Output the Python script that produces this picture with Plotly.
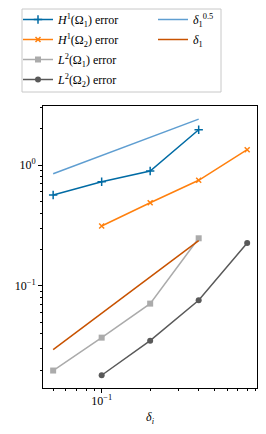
import plotly.graph_objects as go

delta_a = [0.05, 0.1, 0.2, 0.4]
delta_b = [0.1, 0.2, 0.4, 0.8]
h1_omega1 = [0.564, 0.727, 0.892, 1.96]
h1_omega2 = [0.312, 0.487, 0.747, 1.34]
l2_omega1 = [0.0198, 0.0371, 0.0710, 0.247]
l2_omega2 = [0.0181, 0.0350, 0.0757, 0.226]
rate_half = [0.847, 1.198, 1.694, 2.40]
rate_one = [0.0295, 0.059, 0.118, 0.236]

W, H = 266, 434
L, R, T, B = 43, 9, 106, 46
FONT = "Liberation Serif"

fig = go.Figure()
fig.add_trace(go.Scatter(x=delta_a, y=h1_omega1, mode="lines+markers",
    name="<i>H</i><sup>1</sup>(Ω<sub>1</sub>) error", legend="legend", legendgroup="a",
    line=dict(color="#006BA4", width=1.5),
    marker=dict(symbol="cross-thin", size=6, line=dict(color="#006BA4", width=1.5))))
fig.add_trace(go.Scatter(x=delta_b, y=h1_omega2, mode="lines+markers",
    name="<i>H</i><sup>1</sup>(Ω<sub>2</sub>) error", legend="legend", legendgroup="b",
    line=dict(color="#FF800E", width=1.5),
    marker=dict(symbol="x-thin", size=5, line=dict(color="#FF800E", width=1.5))))
fig.add_trace(go.Scatter(x=delta_a, y=l2_omega1, mode="lines+markers",
    name="<i>L</i><sup>2</sup>(Ω<sub>1</sub>) error", legend="legend", legendgroup="c",
    line=dict(color="#ABABAB", width=1.5),
    marker=dict(symbol="square", size=6, color="#ABABAB")))
fig.add_trace(go.Scatter(x=delta_b, y=l2_omega2, mode="lines+markers",
    name="<i>L</i><sup>2</sup>(Ω<sub>2</sub>) error", legend="legend", legendgroup="d",
    line=dict(color="#595959", width=1.5),
    marker=dict(symbol="circle", size=6, color="#595959")))
fig.add_trace(go.Scatter(x=delta_a, y=rate_half, mode="lines",
    name="<i>δ</i><sub>1</sub><sup>0.5</sup>", legend="legend2", legendgroup="e",
    line=dict(color="#5F9ED1", width=1.5)))
fig.add_trace(go.Scatter(x=delta_a, y=rate_one, mode="lines",
    name="<i>δ</i><sub>1</sub>", legend="legend2", legendgroup="f",
    line=dict(color="#C85200", width=1.5)))

pw = W - L - R
ph = H - T - B
def px_x(p):
    return (p - L) / pw
def px_y(p):
    return (H - B - p) / ph

# legend frame
fig.add_shape(type="rect", xref="paper", yref="paper",
    x0=px_x(22), x1=px_x(221), y0=px_y(92), y1=px_y(9),
    line=dict(color="#c8c8c8", width=1), fillcolor="rgba(0,0,0,0)", layer="above")

xminor = [0.05, 0.06, 0.07, 0.08, 0.09, 0.2, 0.3, 0.4, 0.5, 0.6, 0.7, 0.8, 0.9]
yminor = [0.02, 0.03, 0.04, 0.05, 0.06, 0.07, 0.08, 0.09, 0.2, 0.3, 0.4, 0.5, 0.6, 0.7, 0.8, 0.9, 2, 3]

leg_common = dict(xanchor="left", yanchor="top", bgcolor="rgba(0,0,0,0)",
                  font=dict(family=FONT, size=12), traceorder="grouped",
                  tracegroupgap=1, borderwidth=0)

fig.update_layout(
    width=W, height=H,
    margin=dict(l=L, r=R, t=T, b=B, autoexpand=False),
    paper_bgcolor="white", plot_bgcolor="white",
    font=dict(family=FONT, size=12, color="black"),
    legend=dict(x=px_x(18), y=px_y(5), **leg_common),
    legend2=dict(x=px_x(153), y=px_y(5), **leg_common),
    xaxis=dict(type="log", range=[-1.364, -0.036],
               tickvals=[0.1], ticktext=["10<sup>−1</sup>"],
               ticks="outside", ticklen=4, tickcolor="black", ticklabelstandoff=-2,
               minor=dict(tickvals=xminor, ticks="outside", ticklen=2, tickcolor="black"),
               showline=True, linecolor="black", linewidth=1, mirror=True,
               showgrid=False, zeroline=False,
               title=dict(text="<i>δ<sub>i</sub></i>", standoff=5, font=dict(size=12))),
    yaxis=dict(type="log", range=[-1.848, 0.489],
               tickvals=[0.1, 1], ticktext=["10<sup>−1</sup>", "10<sup>0</sup>"],
               ticks="outside", ticklen=4, tickcolor="black",
               minor=dict(tickvals=yminor, ticks="outside", ticklen=2, tickcolor="black"),
               showline=True, linecolor="black", linewidth=1, mirror=True,
               showgrid=False, zeroline=False),
)

fig.write_html("out.html", config={"displayModeBar": False},
               post_script="document.body.style.margin='0';document.body.style.padding='0';")
